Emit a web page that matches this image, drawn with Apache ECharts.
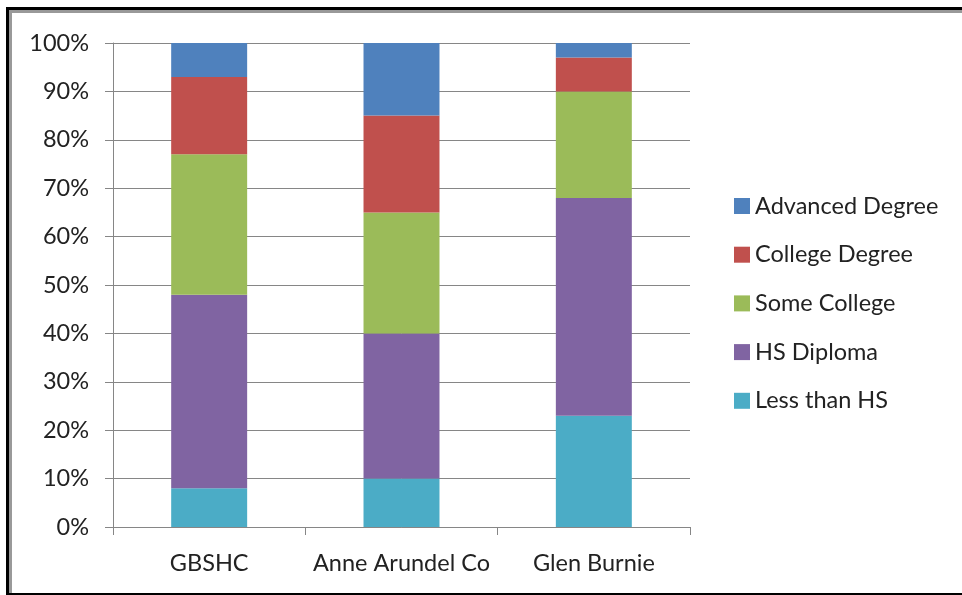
<!DOCTYPE html>
<html>
<head>
<meta charset="utf-8">
<script src="https://cdn.jsdelivr.net/npm/echarts@6/dist/echarts.min.js"></script>
<style>
html,body{margin:0;padding:0;background:#fff;}
#chart{width:962px;height:595px;}
</style>
</head>
<body>
<div id="chart"></div>
<script>
const categories = ['GBSHC', 'Anne Arundel Co', 'Glen Burnie'];
const lessThanHS = [8, 10, 23];
const hsDiploma = [40, 30, 45];
const someCollege = [29, 25, 22];
const collegeDegree = [16, 20, 7];
const advancedDegree = [7, 15, 3];
const yTicks = [0, 10, 20, 30, 40, 50, 60, 70, 80, 90, 100];

const font = 'Lato, "Open Sans", sans-serif';
const chart = echarts.init(document.getElementById('chart'));

function bar(name, data, color) {
  return {
    name: name, type: 'bar', stack: 'total', data: data,
    barWidth: '39.5%',
    itemStyle: { color: color },
    emphasis: { disabled: true }
  };
}

chart.setOption({
  animation: false,
  backgroundColor: '#fff',
  grid: { left: 113, right: 272, top: 43, bottom: 68, containLabel: false },
  legend: {
    orient: 'vertical',
    left: 729, top: 189,
    itemWidth: 16, itemHeight: 16,
    itemGap: 24.7,
    itemTextGap: 6,
    icon: 'rect',
    textStyle: { fontFamily: font, fontSize: 23.5, color: '#222', lineHeight: 24 },
    data: ['Advanced Degree', 'College Degree', 'Some College', 'HS Diploma', 'Less than HS']
  },
  xAxis: {
    type: 'category',
    data: categories,
    axisLine: { lineStyle: { color: '#868686', width: 1 } },
    axisTick: { show: true, length: 8, lineStyle: { color: '#868686' } },
    axisLabel: { fontFamily: font, fontSize: 23.5, color: '#222', margin: 24, interval: 0 }
  },
  yAxis: {
    type: 'value',
    min: 0, max: 100, interval: 10,
    axisLine: { show: true, lineStyle: { color: '#868686', width: 1 } },
    axisTick: { show: true, length: 8, lineStyle: { color: '#868686' } },
    splitLine: { show: true, lineStyle: { color: '#868686', width: 1 } },
    axisLabel: {
      fontFamily: font, fontSize: 23.5, color: '#222', margin: 24,
      formatter: function (v) { return yTicks.indexOf(v) >= 0 ? v + '%' : ''; }
    }
  },
  series: [
    bar('Less than HS', lessThanHS, '#4BACC6'),
    bar('HS Diploma', hsDiploma, '#8064A2'),
    bar('Some College', someCollege, '#9BBB59'),
    bar('College Degree', collegeDegree, '#C0504D'),
    bar('Advanced Degree', advancedDegree, '#4F81BD')
  ],
  graphic: [
    { type: 'rect', shape: { x: 6, y: 7, width: 956, height: 3 }, style: { fill: '#000' }, silent: true },
    { type: 'rect', shape: { x: 9, y: 10, width: 953, height: 3 }, style: { fill: '#999' }, silent: true },
    { type: 'rect', shape: { x: 6, y: 7, width: 3, height: 588 }, style: { fill: '#000' }, silent: true },
    { type: 'rect', shape: { x: 9, y: 10, width: 3, height: 583 }, style: { fill: '#999' }, silent: true },
    { type: 'rect', shape: { x: 6, y: 593, width: 956, height: 2 }, style: { fill: '#000' }, silent: true }
  ]
});
</script>
</body>
</html>
